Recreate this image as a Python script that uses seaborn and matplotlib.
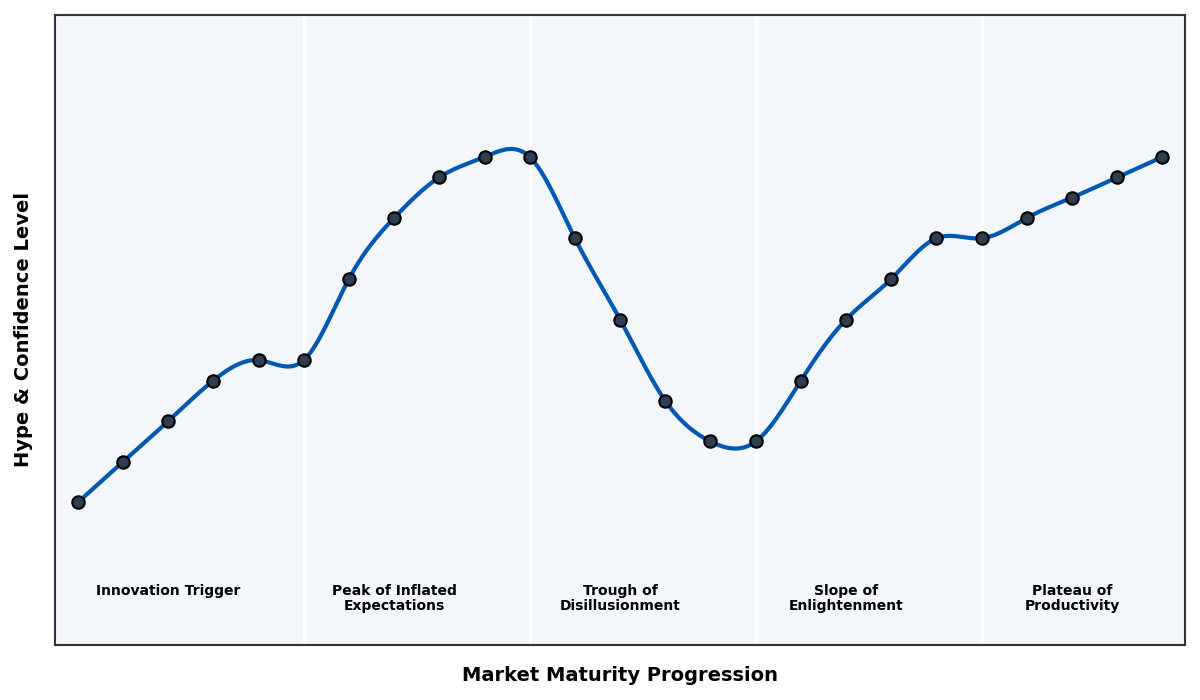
import matplotlib.pyplot as plt
import numpy as np
import pandas as pd
import seaborn as sns

# hype level at each step along the market maturity axis
steps = list(range(25))
hype = [10, 12, 14, 16, 17, 17, 21, 24, 26, 27, 27, 23, 19, 15, 13,
        13, 16, 19, 21, 23, 23, 24, 25, 26, 27]
phase_names = ['Innovation Trigger', 'Peak of Inflated\nExpectations',
               'Trough of\nDisillusionment', 'Slope of\nEnlightenment',
               'Plateau of\nProductivity']
phase_starts = [0, 5, 10, 15, 20]


def natural_spline(x, y, n=600):
    # plain natural cubic spline, so the line passes through each point
    x = np.asarray(x, float)
    y = np.asarray(y, float)
    h = np.diff(x)
    k = len(x)
    A = np.zeros((k, k))
    b = np.zeros(k)
    A[0, 0] = A[-1, -1] = 1
    for i in range(1, k - 1):
        A[i, i - 1] = h[i - 1]
        A[i, i] = 2 * (h[i - 1] + h[i])
        A[i, i + 1] = h[i]
        b[i] = 6 * ((y[i + 1] - y[i]) / h[i] - (y[i] - y[i - 1]) / h[i - 1])
    m = np.linalg.solve(A, b)
    xs = np.linspace(x[0], x[-1], n)
    idx = np.clip(np.searchsorted(x, xs) - 1, 0, k - 2)
    x0, x1 = x[idx], x[idx + 1]
    hi = x1 - x0
    ys = (m[idx] * (x1 - xs) ** 3 / (6 * hi) + m[idx + 1] * (xs - x0) ** 3 / (6 * hi)
          + (y[idx] / hi - m[idx] * hi / 6) * (x1 - xs)
          + (y[idx + 1] / hi - m[idx + 1] * hi / 6) * (xs - x0))
    return xs, ys


def main():
    sns.set_theme(style='white')
    plt.rcParams['font.family'] = ['DejaVu Sans']

    df = pd.DataFrame({'step': steps, 'hype': hype})
    xs, ys = natural_spline(steps, hype)
    smooth = pd.DataFrame({'step': xs, 'hype': ys})

    fig, ax = plt.subplots(figsize=(12, 7), dpi=100)
    ax.set_facecolor('#f3f6fa')

    for e in phase_starts[1:]:
        ax.axvline(e, color='white', lw=2.5, zorder=1)

    sns.lineplot(data=smooth, x='step', y='hype', ax=ax, color='#0058b5',
                 lw=3, zorder=3)
    sns.scatterplot(data=df, x='step', y='hype', ax=ax, color='#2c3e50',
                    edgecolor='black', linewidth=1.5, s=80, zorder=4)

    # phase names sit under the middle point of each phase
    for start, name in zip(phase_starts, phase_names):
        ax.text(start + 2, 6.0, name, ha='center', va='top', fontsize=10,
                fontweight='bold', color='black', linespacing=1.15)

    ax.set_xlim(-0.5, 24.5)
    ax.set_ylim(3, 34)
    ax.set_xticks([])
    ax.set_yticks([])
    for s in ax.spines.values():
        s.set_color('#333333')
        s.set_linewidth(1.5)

    ax.set_xlabel('Market Maturity Progression', fontsize=14,
                  fontweight='bold', labelpad=15, color='black')
    ax.set_ylabel('Hype & Confidence Level', fontsize=14, fontweight='bold',
                  labelpad=16, color='black')

    fig.subplots_adjust(left=0.046, right=0.9875, top=0.979, bottom=0.079)
    plt.savefig('out.png')


if __name__ == '__main__':
    main()
